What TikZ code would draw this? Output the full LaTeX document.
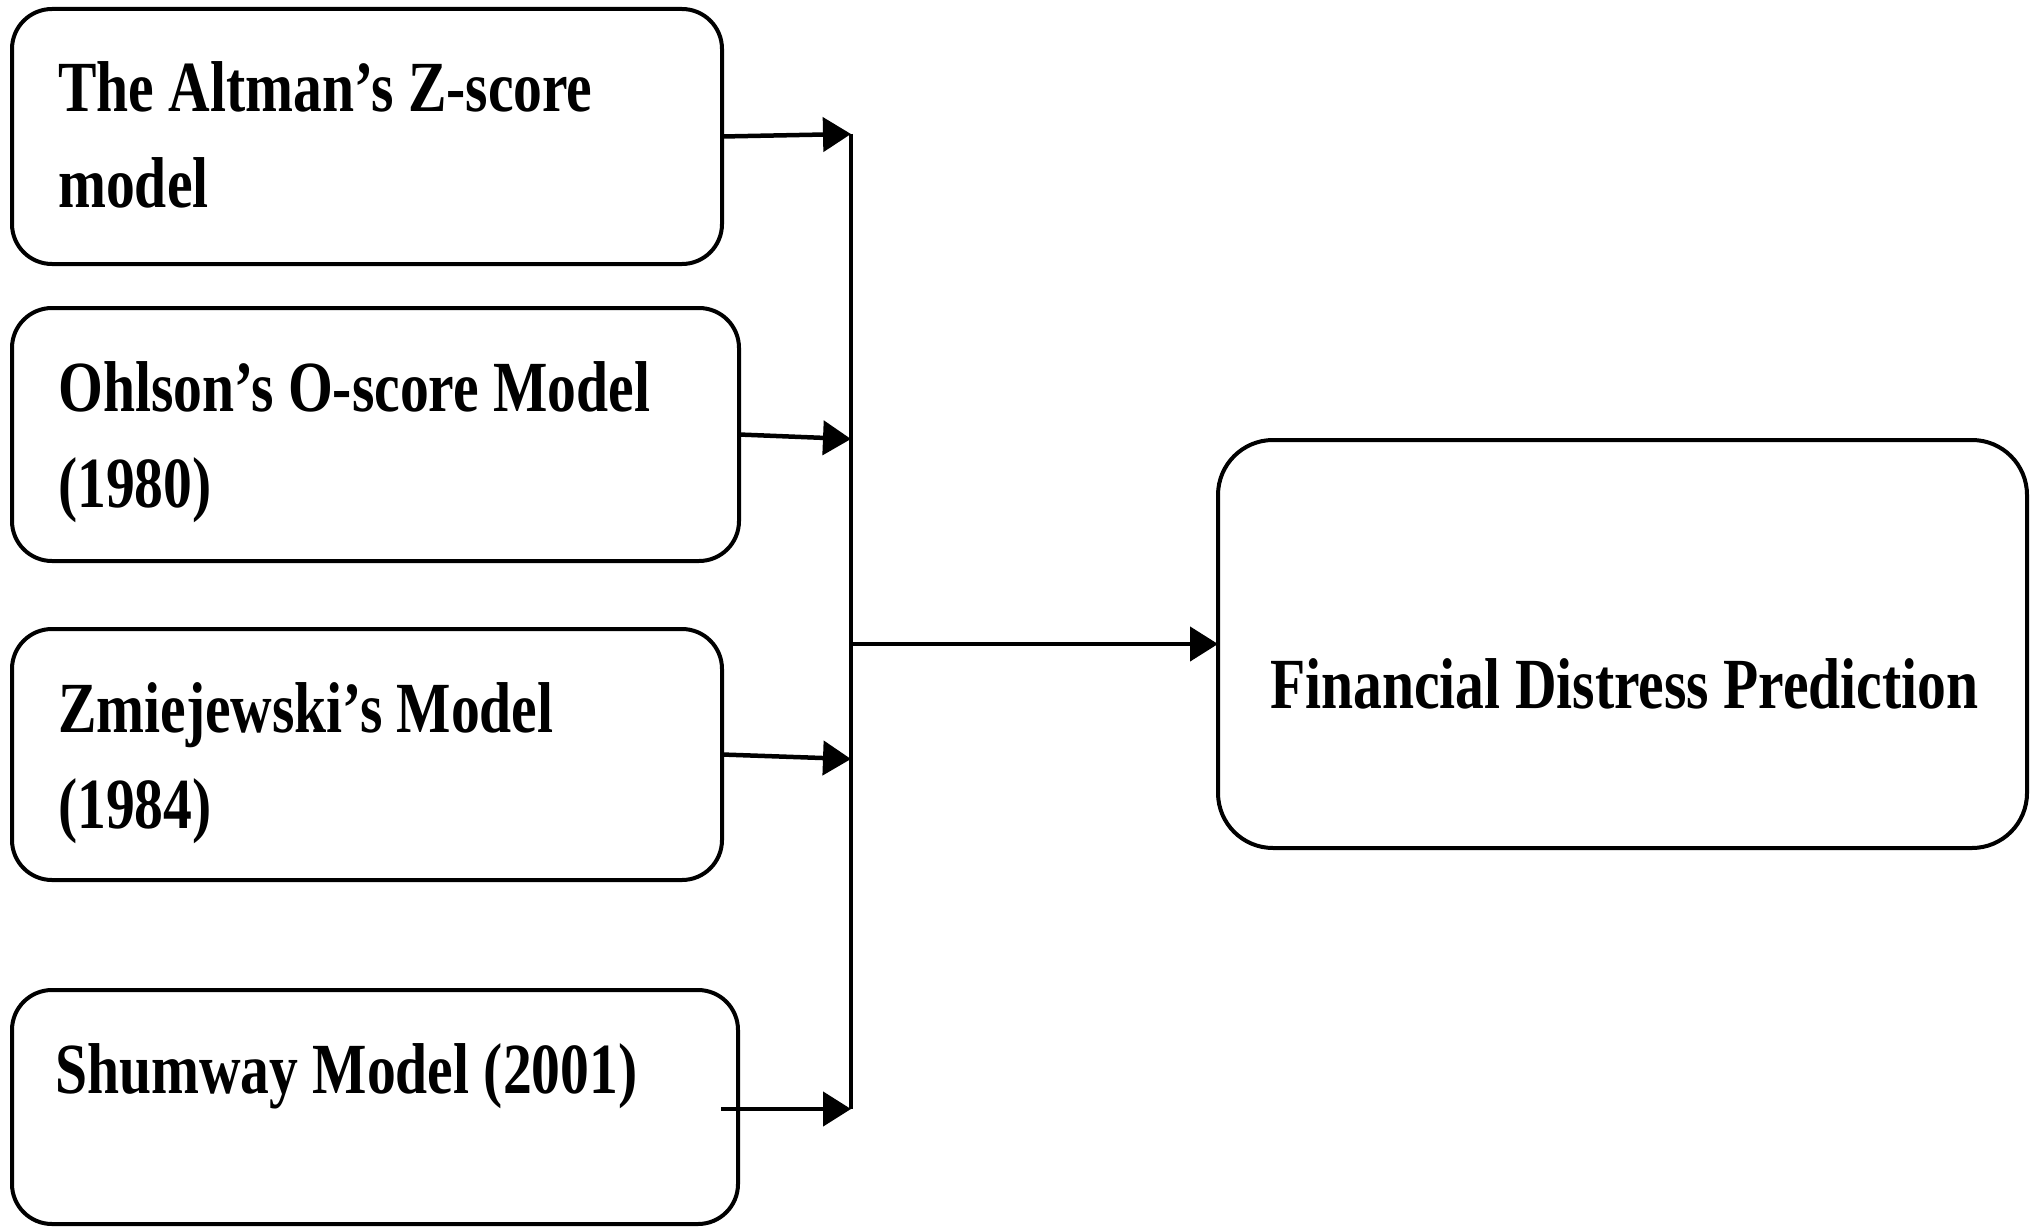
\documentclass[tikz,border=0pt]{standalone}
\usepackage{fontspec}
\newfontfamily\boxfont{Liberation Serif}[FakeStretch=0.8]
\usetikzlibrary{arrows.meta}

\begin{document}
\begin{tikzpicture}[x=1pt, y=-1pt,
  modelbox/.style={draw=black, line width=4pt, rounded corners=40pt,
    inner sep=0pt, outer sep=0pt, fill=white},
  goalbox/.style={modelbox, rounded corners=55pt},
  boxtext/.style={inner sep=0pt, anchor=base west, align=left,
    font=\boxfont\bfseries\fontsize{72}{96}\selectfont},
  feed/.style={line width=4.5pt, -{Triangle[length=28pt,width=34pt]}},
  bus/.style={line width=3.5pt}]

\useasboundingbox (0,0) rectangle (2031,1228);

% model boxes on the left
\node[modelbox, minimum width=710pt, minimum height=255pt] (b1) at (367,136.5) {};
\node[modelbox, minimum width=727pt, minimum height=253pt] (b2) at (375.5,434.5) {};
\node[modelbox, minimum width=710pt, minimum height=251pt] (b3) at (367,754.5) {};
\node[modelbox, minimum width=726pt, minimum height=234pt] (b4) at (375,1107) {};

% outcome box on the right
\node[goalbox, minimum width=809pt, minimum height=408pt] (goal) at (1622.5,644) {};

% box labels (base anchor = baseline of the last line)
\node[boxtext] (t1) at (58,207) {The Altman’s Z-score\\model};
\node[boxtext] (t2) at (58,507) {Ohlson’s O-score Model\\(1980)};
\node[boxtext] (t3) at (58,828) {Zmiejewski’s Model\\(1984)};
\node[boxtext] (t4) at (55,1093) {Shumway Model (2001)};
\node[boxtext] (tg) at (1270,708) {Financial Distress Prediction};

% collecting line
\coordinate (p1) at (851,134);
\coordinate (p2) at (851,439);
\coordinate (p3) at (851,759);
\coordinate (p4) at (851,1109);
\coordinate (pm) at (851,644);
\coordinate (s4) at (721,1109);

\draw[bus] (p1) -- (p4);

\draw[feed] (b1.east) -- (p1);
\draw[feed] (b2.east) -- (p2);
\draw[feed] (b3.east) -- (p3);
\draw[feed] (s4) -- (p4);
\draw[feed] (pm) -- (goal.west);
\end{tikzpicture}
\end{document}
